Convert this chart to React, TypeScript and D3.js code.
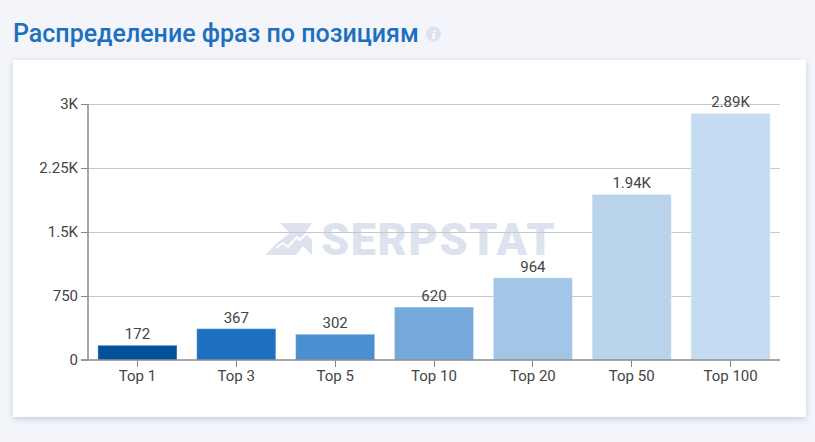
import React from "react";
import * as d3 from "d3";

const categories = ["Top 1", "Top 3", "Top 5", "Top 10", "Top 20", "Top 50", "Top 100"];
const values = [172, 367, 302, 620, 964, 1940, 2890];
const barColors = ["#01529b", "#1c70bf", "#4a90d0", "#74a9da", "#a3c6e6", "#b9d3eb", "#c4dbf2"];
const yTicks = [0, 750, 1500, 2250, 3000];
const yTickLabels = ["0", "750", "1.5K", "2.25K", "3K"];

const title = "Распределение фраз по позициям";
const font = "Roboto, sans-serif";

const fmt = (v: number) => (v >= 1000 ? d3.format(".3~s")(v).replace("k", "K") : String(v));

export default function App() {
  const x = d3.scaleBand().domain(categories).range([88, 780]).paddingInner(0.2).paddingOuter(0.1);
  const y = d3.scaleLinear().domain([0, 3000]).range([360, 104]);
  const axisColor = "#8a8a8a";
  const textColor = "#444";
  const mid = (c: string) => x(c)! + x.bandwidth() / 2;

  return (
    <svg
      width={815}
      height={442}
      style={{ position: "absolute", left: 0, top: 0, background: "#f3f5fa" }}
      fontFamily={font}
    >
      <defs>
        <filter id="card-shadow" x="-5%" y="-5%" width="110%" height="112%">
          <feDropShadow dx="0" dy="2" stdDeviation="3" floodColor="#b4bcd6" floodOpacity="0.75" />
        </filter>
      </defs>

      <text x={13} y={42} fontSize={25} fontWeight={500} fill="#1c70bf">
        {title}
      </text>
      <circle cx={433.5} cy={34} r={7.5} fill="#dde2ef" />
      <text x={433.5} y={39} fontSize={13} fontWeight={700} fontStyle="italic" fill="#fff" textAnchor="middle" fontFamily="'Liberation Serif', serif">
        i
      </text>

      <rect x={13} y={60} width={793} height={357} fill="#fff" filter="url(#card-shadow)" />

      {/* watermark */}
      <g fill="#dde2ef">
        <path d="M280 223H312L305 233L312 240V255L303 246L296 255H265L277 243L290 233Z" />
        <path d="M276 248L283 243L288 247L297 237L300 240L307 233" fill="none" stroke="#fff" strokeWidth={2} />
        <text x={321} y={255} fontSize={45} fontWeight={900} letterSpacing={1.6} fontFamily="Roboto, sans-serif">
          SERPSTAT
        </text>
      </g>

      {yTicks.map((t, i) => (
        <g key={t}>
          {t > 0 && <line x1={88} x2={780} y1={y(t) + 0.5} y2={y(t) + 0.5} stroke="#c8c8c8" strokeWidth={1} />}
          <line x1={81} x2={88} y1={y(t) + (t > 0 ? 0.5 : 0)} y2={y(t) + (t > 0 ? 0.5 : 0)} stroke={axisColor} />
          <text x={78} y={y(t) + 5} fontSize={15} fill={textColor} textAnchor="end">
            {yTickLabels[i]}
          </text>
        </g>
      ))}

      {categories.map((c, i) => (
        <g key={c}>
          <rect
            x={x(c)}
            y={y(values[i])}
            width={x.bandwidth()}
            height={360 - y(values[i])}
            fill={barColors[i]}
            stroke="#fff"
            strokeOpacity={0.35}
          />
          <text x={mid(c)} y={y(values[i]) - 6} fontSize={15} fill={textColor} textAnchor="middle">
            {fmt(values[i])}
          </text>
          <line x1={Math.floor(mid(c)) + 0.5} x2={Math.floor(mid(c)) + 0.5} y1={360} y2={367} stroke={axisColor} />
          <text x={mid(c)} y={381} fontSize={15} fill={textColor} textAnchor="middle">
            {c}
          </text>
        </g>
      ))}

      <line x1={88} x2={88} y1={104} y2={360} stroke={axisColor} strokeWidth={1.5} />
      <line x1={81} x2={780} y1={360} y2={360} stroke={axisColor} strokeWidth={1.5} />
    </svg>
  );
}
